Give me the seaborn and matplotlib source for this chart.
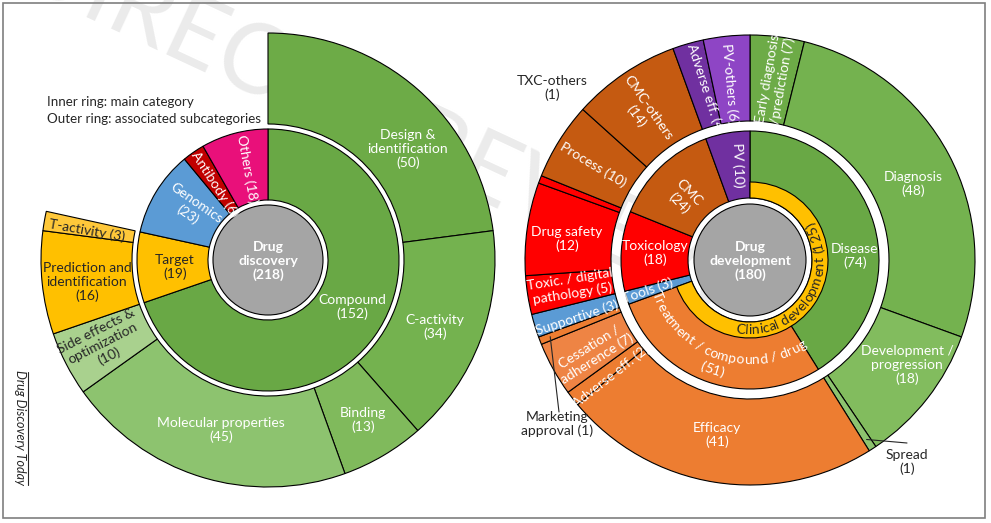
import numpy as np
import pandas as pd
import seaborn as sns
import matplotlib
matplotlib.use('Agg')
from matplotlib import pyplot as plt
from matplotlib.patches import Rectangle
from matplotlib.font_manager import FontProperties

# Drug discovery (left sunburst)
disc_title = 'Drug\ndiscovery'
disc_total = 218
disc_main = ['Compound', 'Target', 'Genomics', 'Antibody', 'Others']
disc_main_n = [152, 19, 23, 6, 18]
disc_sub = ['Design &\nidentification', 'C-activity', 'Binding', 'Molecular properties',
            'Side effects &\noptimization', 'Prediction and\nidentification', 'T-activity']
disc_sub_n = [50, 34, 13, 45, 10, 16, 3]

# Drug development (right sunburst)
dev_title = 'Drug\ndevelopment'
dev_total = 180
dev_main = ['Disease', 'Treatment / compound / drug', 'Tools', 'Toxicology', 'CMC', 'PV']
dev_main_n = [74, 51, 3, 18, 24, 10]
dev_clin = 'Clinical development'
dev_clin_n = 125
dev_sub = ['Early diagnosis\n/prediction', 'Diagnosis', 'Development /\nprogression', 'Spread',
           'Efficacy', 'Adverse eff.', 'Cessation /\nadherence', 'Marketing\napproval',
           'Supportive', 'Toxic. / digital\npathology', 'Drug safety', 'TXC-others',
           'Process', 'CMC-others', 'Adverse eff.', 'PV-others']
dev_sub_n = [7, 48, 18, 1, 41, 2, 7, 1, 3, 5, 12, 1, 10, 14, 4, 6]

legend_lines = ['Inner ring: main category', 'Outer ring: associated subcategories']

# colours
GREY = '#A5A5A5'
DARK = '#262626'
disc_main_col = ['#69A845', '#FFC000', '#5B9BD5', '#C00000', '#E9107A']
disc_sub_col = ['#6DAB47', '#74B24F', '#80BA5C', '#8DC36F', '#A9D18E', '#FFC000', '#FFC83A']
dev_main_col = ['#69A845', '#ED7D31', '#5B9BD5', '#FF0000', '#C55A11', '#7030A0']
dev_sub_col = ['#6DAB47', '#74B24F', '#82BC5E', '#8DC36F', '#ED7D31', '#ED7D31', '#EE8444', '#ED7D31',
               '#5B9BD5', '#FF0000', '#FF0000', '#FF0000', '#C55A11', '#C55A11', '#7030A0', '#8E45C5']

# label layout: (x, y, rotation, separator, dark text, clip to wedge)
disc_main_lay = [(352, 307, 0, '\n', False, False), (175, 267, 0, '\n', True, False),
                 (192, 209, -35, '\n', False, False), (215, 184, -57, ' ', False, False),
                 (247, 169, -80, ' ', False, False)]
disc_sub_lay = [(408, 149, 0, '\n', False, False), (435, 327, 0, '\n', False, False),
                (363, 420, 0, '\n', False, False), (221, 430, 0, '\n', False, False),
                (103, 344, 27, '\n', True, False), (87, 282, 0, '\n', True, False),
                (87, 230, -10, ' ', True, False)]
dev_main_lay = [(855, 256, 0, '\n', False, False), None,
                (648, 291, 19, ' ', False, False), (655, 253, 0, '\n', False, False),
                (684, 198, -46, '\n', False, False), (738, 165, -88, ' ', False, False)]
dev_sub_lay = [(775, 80, 80, ' ', False, False), (913, 184, 0, '\n', False, False),
               (907, 365, 0, '\n', False, False), (907, 462, 0, '\n', True, False),
               (717, 435, 0, '\n', False, False), (611, 376, 38, ' ', False, True),
               (593, 353, 32, ' ', False, False), (557, 424, 0, ' ', True, False),
               (577, 318, 18, ' ', False, False), (571, 287, 9, ' ', False, False),
               (567, 239, 0, '\n', False, False), (552, 88, 0, '\n', True, False),
               (593, 165, -31, ' ', False, False), (642, 112, -55, '\n', False, False),
               (705, 88, -72, ' ', False, True), (730, 84, -85, ' ', False, False)]

sns.set_theme(style='white')
plt.rcParams['font.family'] = ['Lato', 'DejaVu Sans']

W, H = 991, 523
fig = plt.figure(figsize=(W / 100, H / 100), dpi=100)
ax = fig.add_axes([0, 0, 1, 1])


def Y(y):
    return H - y


EDGE = dict(edgecolor='black', linewidth=0.8)


def ring(values, colors, center, r_out, r_in, total=None):
    vals, cols = list(values), list(colors)
    if total is not None and total > sum(vals):
        vals.append(total - sum(vals))
        cols.append('none')
    wedges, _ = ax.pie(vals, colors=cols, radius=r_out, center=center, startangle=90,
                       counterclock=False, wedgeprops=dict(width=r_out - r_in, **EDGE))
    for w in wedges[len(values):]:
        w.set_visible(False)
    return wedges[:len(values)]


def put(x, y, s, rot=0, dark=False, bold=False, clip=None, size=10):
    t = ax.text(x, Y(y), s, rotation=rot, rotation_mode='anchor', ha='center', va='center',
                multialignment='center', color=DARK if dark else 'white', fontsize=size,
                fontweight='bold' if bold else 'normal', linespacing=1.2, zorder=5)
    if clip is not None:
        t.set_clip_path(clip)


def arc_text(center, r, ang, s, color, size=10):
    prop = FontProperties(family='Lato', size=size)
    rend = fig.canvas.get_renderer()
    wx = rend.get_text_width_height_descent('x', prop, ismath=False)[0]

    def wid(t):
        return rend.get_text_width_height_descent(t + 'x', prop, ismath=False)[0] - wx

    total = wid(s)
    for i, ch in enumerate(s):
        if ch == ' ':
            continue
        mid = (wid(s[:i]) + wid(s[:i + 1])) / 2
        th = np.radians(ang) + (mid - total / 2) / r
        rb = r + 4
        ax.text(center[0] + rb * np.cos(th), center[1] + rb * np.sin(th), ch,
                rotation=np.degrees(th) + 90, rotation_mode='anchor', ha='center',
                va='baseline', color=color, fontsize=size, zorder=5)


def mid_angle(w):
    return (w.theta1 + w.theta2) / 2


def labels(wedges, names, counts, lay):
    for w, name, n, l in zip(wedges, names, counts, lay):
        if l is None:
            continue
        x, y, rot, sep, dark, clip = l
        put(x, y, f'{name}{sep}({n})', rot, dark, clip=w if clip else None)


# ---- left: drug discovery
L = (268, Y(260))
disc_in = ring(disc_main_n, disc_main_col, L, 131, 60)
disc_out = ring(disc_sub_n, disc_sub_col, L, 227, 136, total=disc_total)
ax.pie([disc_total], colors=[GREY], radius=55, center=L, wedgeprops=EDGE)
put(L[0], 261, f'{disc_title}\n({disc_total})', bold=True)
labels(disc_in, disc_main, disc_main_n, disc_main_lay)
labels(disc_out, disc_sub, disc_sub_n, disc_sub_lay)

# ---- right: drug development
R = (750, Y(260))
dev_in = ring(dev_main_n, dev_main_col, R, 129, 62)
dev_cl = ring([dev_clin_n], ['#FFC000'], R, 78, 62, total=dev_total)
dev_out = ring(dev_sub_n, dev_sub_col, R, 225, 139)
ax.pie([dev_total], colors=[GREY], radius=56, center=R, wedgeprops=EDGE)
put(R[0], 261, f'{dev_title}\n({dev_total})', bold=True)
labels(dev_in, dev_main, dev_main_n, dev_main_lay)
labels(dev_out, dev_sub, dev_sub_n, dev_sub_lay)

a = mid_angle(dev_in[1])
arc_text(R, 100, a, dev_main[1], 'white')
arc_text(R, 116, a, f'({dev_main_n[1]})', 'white')
arc_text(R, 70, mid_angle(dev_cl[0]), f'{dev_clin} ({dev_clin_n})', DARK)

# leader lines for the thin slices
for idx, end in [(7, (559, 412)), (3, (907, 443))]:
    th = np.radians(mid_angle(dev_out[idx]))
    ax.plot([R[0] + 214 * np.cos(th), end[0]], [R[1] + 214 * np.sin(th), Y(end[1])],
            color=DARK, lw=0.8, zorder=4)

# legend text
for i, s in enumerate(legend_lines):
    ax.text(47, Y(102 + 17 * i), s, ha='left', va='center', color=DARK, fontsize=9.6)

# watermark, frame and journal tag
ax.text(11, Y(-18), 'DIRECT PREVIEW', rotation=-25, rotation_mode='anchor', ha='left',
        va='baseline', fontsize=70, color='#EBEBEB', zorder=0.5)
ax.add_patch(Rectangle((3, Y(518)), 982, 515, fill=False, edgecolor='#7F7F7F', lw=1.2, zorder=6))
ax.text(20, Y(427), 'Drug Discovery Today', rotation=-90, style='italic', ha='center',
        va='center', color=DARK, fontsize=9)
ax.plot([28, 28], [Y(372), Y(485)], color=DARK, lw=0.8)

ax.set_xlim(0, W)
ax.set_ylim(0, H)
ax.set_aspect('auto')
ax.axis('off')
fig.savefig('out.png', dpi=100)
